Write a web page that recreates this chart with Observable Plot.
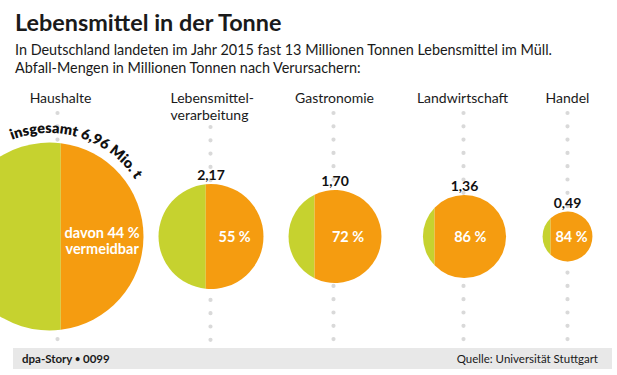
<!DOCTYPE html>
<html><head><meta charset="utf-8">
<script src="https://cdn.jsdelivr.net/npm/d3@7"></script>
<script src="https://cdn.jsdelivr.net/npm/@observablehq/plot@0.6"></script>
<style>
body{margin:0;background:#fff;font-family:Lato,"Open Sans",sans-serif;width:617px;height:375px;overflow:hidden;position:relative;color:#1a1a1a}
#title{position:absolute;left:15px;top:8px;font-weight:700;font-size:23.4px;line-height:28px;white-space:nowrap}
#sub{position:absolute;left:15px;top:41px;font-size:14.4px;line-height:18px;white-space:nowrap}
#chart{position:absolute;left:0;top:85px}
#foot{position:absolute;left:13px;top:348px;width:599px;height:21px;background:#e8e8e8;font-size:11.5px;line-height:21px}
#foot .l{position:absolute;left:9px;font-weight:700}
#foot .b{font-size:9px;vertical-align:1px}
#foot .r{position:absolute;right:14px}
</style>
</head><body>
<div id="title">Lebensmittel in der Tonne</div>
<div id="sub">In Deutschland landeten im Jahr 2015 fast 13 Millionen Tonnen Lebensmittel im Müll.<br>Abfall-Mengen in Millionen Tonnen nach Verursachern:</div>
<div id="chart"></div>
<div id="foot"><span class="l">dpa-Story <span class="b">•</span> 0099</span><span class="r">Quelle: Universität Stuttgart</span></div>
<script>
// ---- data ----
const categories = ["Haushalte", "Lebensmittel-\nverarbeitung", "Gastronomie", "Landwirtschaft", "Handel"];
const totals = [6.96, 2.17, 1.70, 1.36, 0.49];           // Mio. t
const avoidablePct = [44, 55, 72, 86, 84];                 // % vermeidbar
const valueLabels = ["6,96", "2,17", "1,70", "1,36", "0,49"];
const pctLabels = ["davon 44 %\nvermeidbar", "55 %", "72 %", "86 %", "84 %"];
const totalLabel = "insgesamt 6,96 Mio. t";

// ---- layout (page pixels) ----
const circleX = [49, 210.5, 334.5, 464, 567];
const guideX = [57, 210, 333, 463, 567];
const labelX = [60, 170, 334, 462, 567];
const guideTop = [113, 127, 113, 113, 113];
const CY = 236, TOP = 85, H = 263, W = 617;
const GREEN = "#c6d22f", ORANGE = "#f59c10";

const rows = categories.map((c, i) => ({
  i, category: c, total: totals[i], pct: avoidablePct[i],
  valueLabel: valueLabels[i], pctLabel: pctLabels[i],
  cx: circleX[i], gx: guideX[i], lx: labelX[i], gTop: guideTop[i]
}));

const rOpts = {type: "sqrt", domain: [0, 6.96], range: [0, 94]};
const rScale = Plot.scale({r: rOpts});

function segment(p, side) {
  return {draw(ctx, size) {
    const R = Math.sqrt(size / Math.PI);
    const x0 = R * (1 - 2 * p);
    const a = Math.acos(Math.max(-1, Math.min(1, x0 / R)));
    if (side === "right") {
      ctx.moveTo(x0, -R * Math.sin(a));
      ctx.arc(0, 0, R, -a, a, false);
    } else {
      ctx.moveTo(x0, R * Math.sin(a));
      ctx.arc(0, 0, R, a, 2 * Math.PI - a, false);
    }
    ctx.closePath();
  }};
}

const plot = Plot.plot({
  width: W, height: H, margin: 0,
  x: {type: "linear", domain: [0, W], range: [0, W], axis: null},
  y: {type: "linear", domain: [TOP, TOP + H], range: [0, H], axis: null},
  r: rOpts,
  style: {fontFamily: "Lato, 'Open Sans', sans-serif", background: "transparent", overflow: "visible"},
  marks: [
    Plot.ruleX(rows, {x: "gx", y1: "gTop", y2: 347, stroke: "#d9d9d9", strokeWidth: 4.2,
      strokeLinecap: "round", strokeDasharray: "0 13.3"}),
    ...rows.map(d => Plot.dot([d], {x: "cx", y: () => CY, r: "total", fill: GREEN, symbol: segment(d.pct / 100, "left")})),
    ...rows.map(d => Plot.dot([d], {x: "cx", y: () => CY, r: "total", fill: ORANGE, symbol: segment(d.pct / 100, "right")})),
    Plot.text(rows.filter(d => d.i > 0), {x: "cx", y: d => CY - rScale.apply(d.total) - 8.5, text: "valueLabel",
      fontWeight: 700, fontSize: 14, fill: "#111"}),
    Plot.text(rows, {x: d => d.cx + rScale.apply(d.total) * (1 - d.pct / 100), y: d => CY + (d.i === 0 ? 4 : 0),
      text: "pctLabel", fill: "white", fontWeight: 700, fontSize: 14.5, lineHeight: 1.12}),
    Plot.text(rows, {x: "lx", y: () => 91, text: "category", lineAnchor: "top",
      textAnchor: "middle", fontSize: 14, lineHeight: 1.18, fill: "#1a1a1a"}),
  ]
});
document.getElementById("chart").appendChild(plot);

// Left-align the two-line label like the reference
d3.select(plot).selectAll("text").filter(function() { return this.textContent.startsWith("Lebensmittel-"); })
  .attr("text-anchor", "start");

// curved total label around the Haushalte circle
(function() {
  const sx = plot.scale ? plot.scale("x").apply : (v => v);
  const sy = plot.scale ? plot.scale("y").apply : (v => v - TOP);
  const d = rows[0];
  const cx = sx(d.cx), cy = sy(CY);
  const rr = rScale.apply(d.total) + 9;
  const t1 = -21 * Math.PI / 180, t2 = 85 * Math.PI / 180;
  const p = `M${cx + rr * Math.sin(t1)},${cy - rr * Math.cos(t1)} A${rr},${rr} 0 0 1 ${cx + rr * Math.sin(t2)},${cy - rr * Math.cos(t2)}`;
  const svg = d3.select(plot);
  svg.append("defs").append("path").attr("id", "arcTotal").attr("d", p);
  svg.append("text").attr("text-anchor", "start").attr("font-weight", 800).attr("font-size", 14.5).attr("fill", "#111")
    .append("textPath").attr("href", "#arcTotal").attr("startOffset", 0).text(totalLabel);
})();
</script>
</body></html>
